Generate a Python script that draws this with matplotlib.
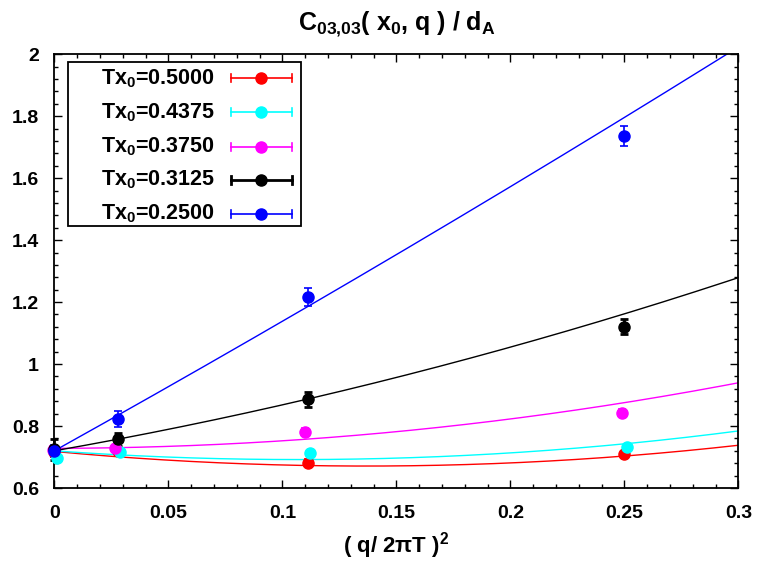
import numpy as np
import matplotlib
matplotlib.use("Agg")
import matplotlib.pyplot as plt
from matplotlib.ticker import MultipleLocator, FormatStrFormatter

plt.rcParams['font.family'] = ['Liberation Sans', 'DejaVu Sans']
plt.rcParams['font.weight'] = 'bold'
plt.rcParams['mathtext.fontset'] = 'custom'
plt.rcParams['mathtext.rm'] = 'Liberation Sans:bold'
plt.rcParams['mathtext.it'] = 'Liberation Sans:bold'
plt.rcParams['mathtext.bf'] = 'Liberation Sans:bold'

# ---- data ----
labels = ["Tx$_0$=0.5000", "Tx$_0$=0.4375", "Tx$_0$=0.3750", "Tx$_0$=0.3125", "Tx$_0$=0.2500"]
colors = ["#ff0000", "#00ffff", "#ff00ff", "#000000", "#0000ff"]

x_red = [0.0, 0.0278, 0.1111, 0.25]
y_red = [0.715, 0.720, 0.680, 0.709]
e_red = [0.015, 0.010, 0.013, 0.012]

x_cyan = [0.001, 0.0288, 0.1121, 0.251]
y_cyan = [0.697, 0.717, 0.712, 0.731]
e_cyan = [0.012, 0.010, 0.010, 0.010]

x_mag = [-0.0005, 0.0268, 0.1098, 0.2488]
y_mag = [0.722, 0.730, 0.782, 0.843]
e_mag = [0.012, 0.010, 0.012, 0.012]

x_blk = [0.0, 0.0278, 0.1111, 0.25]
y_blk = [0.725, 0.757, 0.887, 1.121]
e_blk = [0.034, 0.022, 0.024, 0.024]

x_blu = [0.0, 0.0278, 0.1111, 0.25]
y_blu = [0.720, 0.822, 1.216, 1.736]
e_blu = [0.020, 0.026, 0.028, 0.031]

# quadratic fit coefficients a + b x + c x^2
fit_red = [0.718, -0.689, 2.518]
fit_cyan = [0.720, -0.528, 2.472]
fit_mag = [0.728, 0.012, 2.31]
fit_blk = [0.720, 1.293, 1.90]
fit_blu = [0.720, 4.098, 0.82]

series = [
    (x_red, y_red, e_red, fit_red),
    (x_cyan, y_cyan, e_cyan, fit_cyan),
    (x_mag, y_mag, e_mag, fit_mag),
    (x_blk, y_blk, e_blk, fit_blk),
    (x_blu, y_blu, e_blu, fit_blu),
]

fig = plt.figure(figsize=(7.61, 5.66), dpi=100)
ax = fig.add_axes([0.0714, 0.1378, 0.8988, 0.7664])

xf = np.linspace(0, 0.3, 300)
for (xs, ys, es, fc), col in zip(series, colors):
    ax.plot(xf, fc[0] + fc[1] * xf + fc[2] * xf ** 2, color=col, lw=1.0, zorder=2)
for (xs, ys, es, fc), col in zip(series, colors):
    lw = 2.0 if col == "#000000" else 1.2
    ax.errorbar(xs, ys, yerr=es, fmt='o', color=col, ms=8, capsize=3, elinewidth=lw,
                capthick=lw, zorder=3, clip_on=False)

ax.set_xlim(0, 0.3)
ax.set_ylim(0.6, 2.0)
ax.xaxis.set_major_locator(MultipleLocator(0.05))
ax.xaxis.set_minor_locator(MultipleLocator(0.01))
ax.yaxis.set_major_locator(MultipleLocator(0.2))
ax.yaxis.set_minor_locator(MultipleLocator(0.04))
ax.xaxis.set_major_formatter(FormatStrFormatter('%g'))
ax.yaxis.set_major_formatter(FormatStrFormatter('%g'))
ax.tick_params(which='both', direction='in', top=True, right=True, labelsize=14)
ax.tick_params(which='major', length=5.5, width=1.0)
ax.tick_params(which='minor', length=3, width=1.0)
ax.tick_params(axis='x', which='major', pad=12)
ax.tick_params(axis='y', which='major', pad=11)
for sp in ax.spines.values():
    sp.set_linewidth(1.3)

ax.set_title("C$_{03{,}03}$( x$_0$, q ) / d$_A$", fontsize=18, fontweight='bold', pad=17)
ax.set_xlabel("( q/ 2$\\pi$T )$^2$", fontsize=16, fontweight='bold', labelpad=6)

# legend drawn manually in axes coordinates (gnuplot style)
box_l, box_r, box_t, box_b = 0.0195, 0.361, 0.982, 0.604
ax.add_patch(plt.Rectangle((box_l, box_b), box_r - box_l, box_t - box_b, transform=ax.transAxes,
                           fill=True, facecolor='white', edgecolor='black', lw=1.3, zorder=5))
row_y = [0.9447, 0.8663, 0.787, 0.710, 0.632]
tx_r, ln_l, ln_r, dot_x = 0.235, 0.258, 0.347, 0.302
for lab, col, yy in zip(labels, colors, row_y):
    lw = 2.0 if col == "#000000" else 1.2
    ax.text(tx_r, yy, lab, transform=ax.transAxes, ha='right', va='center', fontsize=15.5,
            fontweight='bold', zorder=6)
    ax.plot([ln_l, ln_r], [yy, yy], color=col, lw=lw, transform=ax.transAxes, zorder=6)
    for xe in (ln_l, ln_r):
        ax.plot([xe, xe], [yy - 0.009, yy + 0.009], color=col, lw=lw, transform=ax.transAxes, zorder=6)
    ax.plot([dot_x], [yy], 'o', color=col, ms=8, transform=ax.transAxes, zorder=7)

fig.savefig("out.png", dpi=100)
